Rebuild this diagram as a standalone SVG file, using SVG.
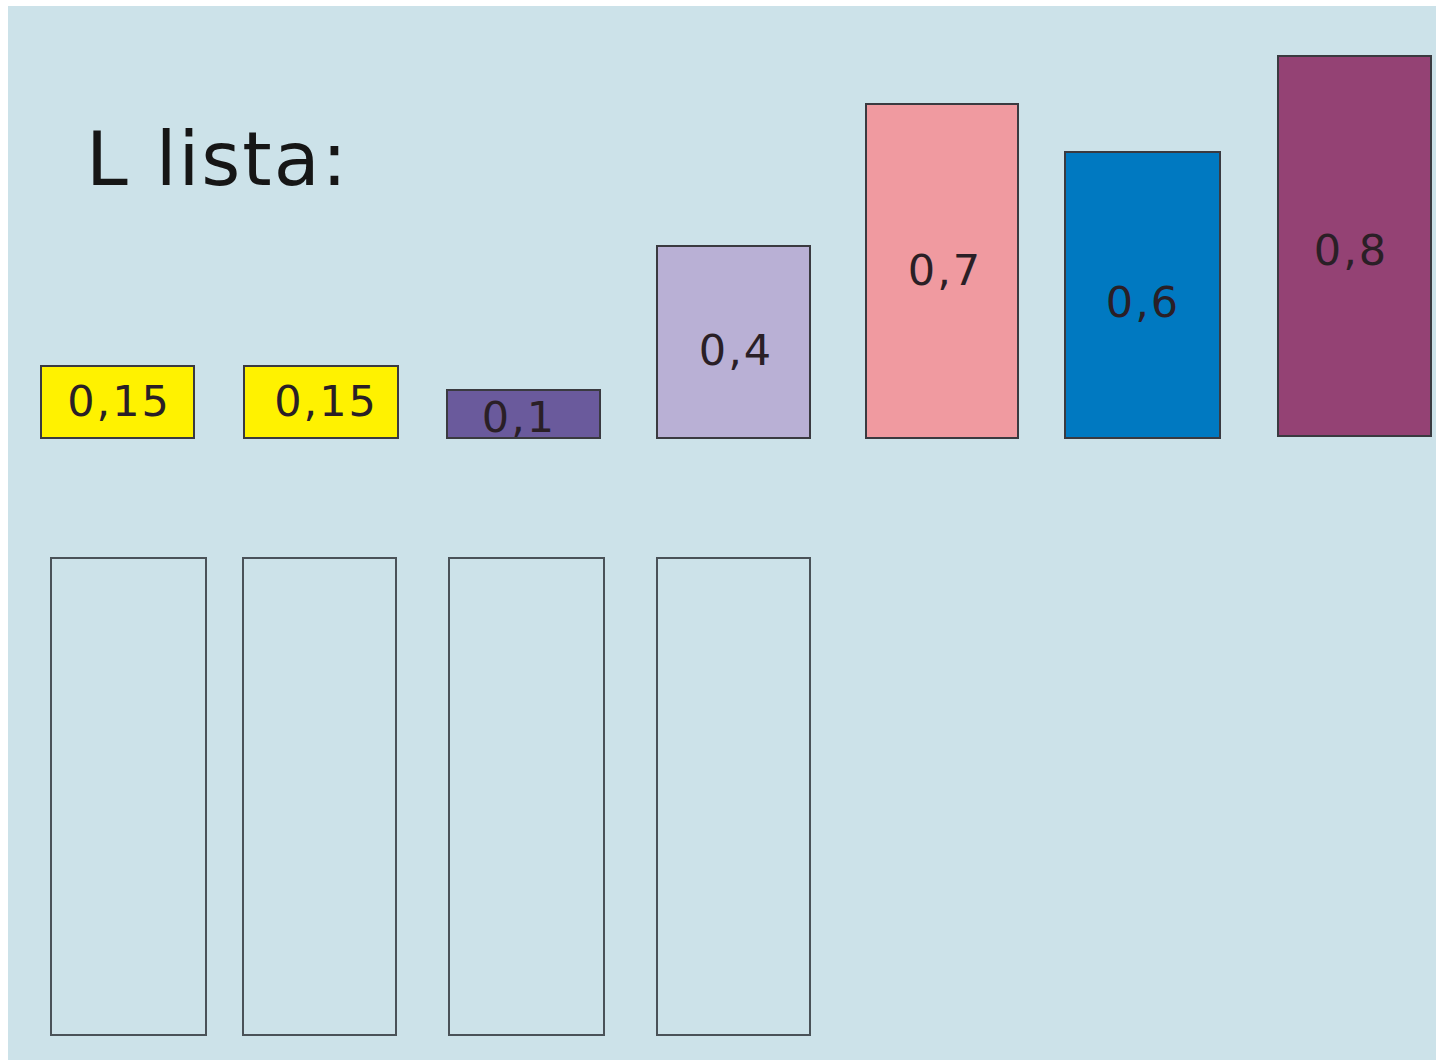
<svg xmlns="http://www.w3.org/2000/svg" width="1436" height="1060" viewBox="0 0 1436 1060">
<style>
.bar{stroke:#3a3a40;stroke-width:2}
.slot{fill:none;stroke:#4a5258;stroke-width:2}
.lbl{font-family:"DejaVu Sans",sans-serif;font-size:43px;fill:#2a1f26;text-anchor:middle;letter-spacing:2px}
.title{font-family:"DejaVu Sans",sans-serif;font-size:75px;fill:#161616;letter-spacing:2px}
</style>
<rect x="0" y="0" width="1436" height="1060" fill="#ffffff"/>
<rect x="8" y="6" width="1428" height="1054" fill="#cce2e9"/>
<text class="title" x="86" y="185">L lista:</text>
<g id="n015a"><rect class="bar" x="41" y="366" width="153" height="72" fill="#fff200"/><text class="lbl" x="119" y="416">0,15</text></g>
<g id="n015b"><rect class="bar" x="244" y="366" width="154" height="72" fill="#fff200"/><text class="lbl" x="326" y="416">0,15</text></g>
<g id="n01"><rect class="bar" x="447" y="390" width="153" height="48" fill="#6a5a9c"/><text class="lbl" x="519" y="432">0,1</text></g>
<g id="n04"><rect class="bar" x="657" y="246" width="153" height="192" fill="#b9b0d5"/><text class="lbl" x="736" y="365">0,4</text></g>
<g id="n07"><rect class="bar" x="866" y="104" width="152" height="334" fill="#f09aa0"/><text class="lbl" x="945" y="285">0,7</text></g>
<g id="n06"><rect class="bar" x="1065" y="152" width="155" height="286" fill="#0079c1"/><text class="lbl" x="1143" y="317">0,6</text></g>
<g id="n08"><rect class="bar" x="1278" y="56" width="153" height="380" fill="#944274"/><text class="lbl" x="1351" y="265">0,8</text></g>
<g id="s1"><rect class="slot" x="51" y="558" width="155" height="477"/></g>
<g id="s2"><rect class="slot" x="243" y="558" width="153" height="477"/></g>
<g id="s3"><rect class="slot" x="449" y="558" width="155" height="477"/></g>
<g id="s4"><rect class="slot" x="657" y="558" width="153" height="477"/></g>
<g id="connectors"></g>
</svg>
